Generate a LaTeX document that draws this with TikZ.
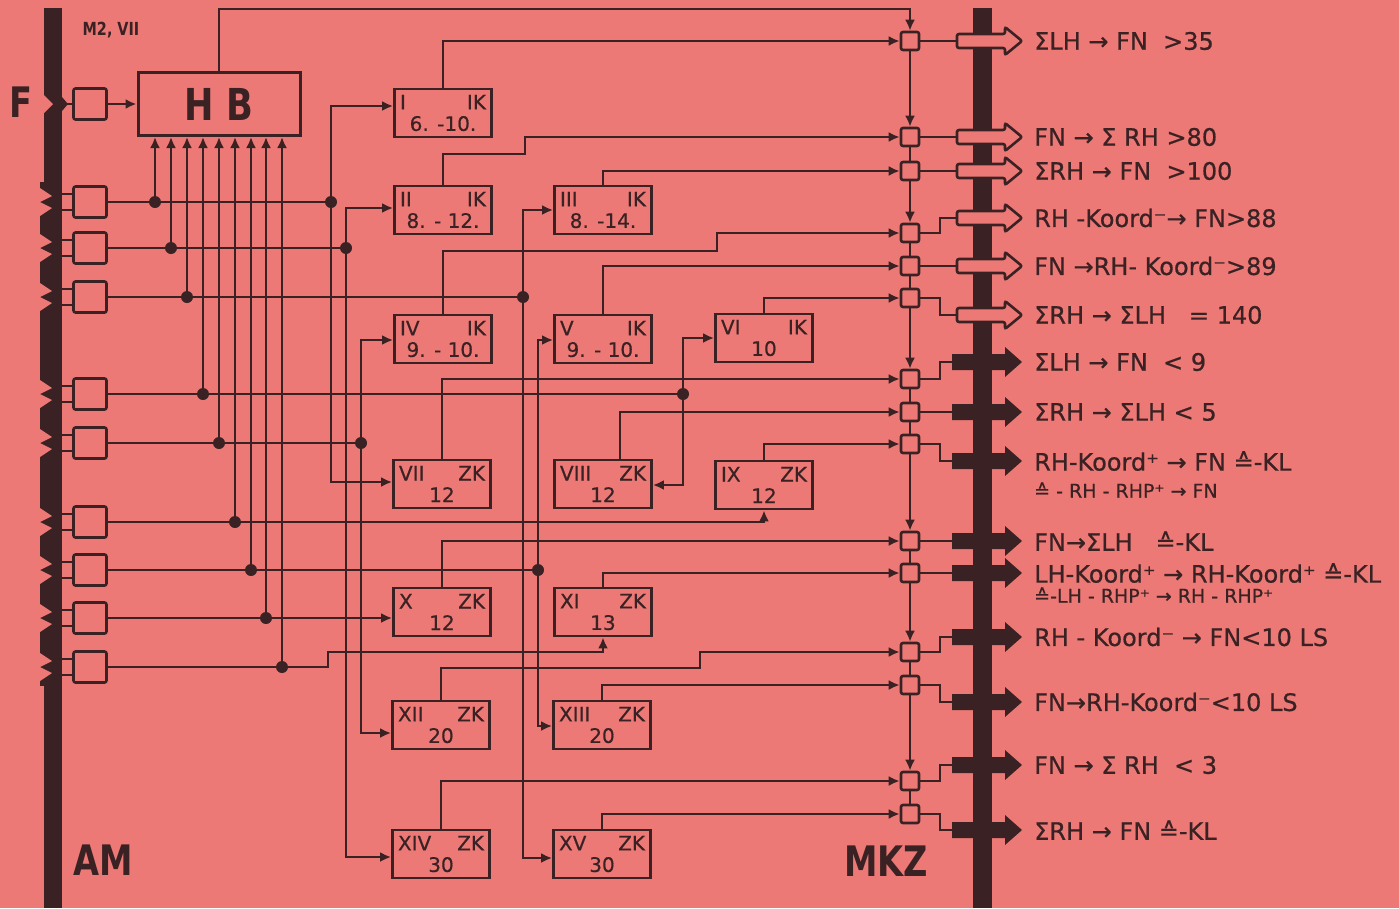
\documentclass[tikz,border=0pt]{standalone}
\usepackage{fontspec}
\setmainfont{DejaVu Sans}[FakeBold=0.6]
\newfontfamily\narrowfont[FakeStretch=0.8]{DejaVu Sans}
\usetikzlibrary{arrows.meta, positioning}
\definecolor{bg}{RGB}{236,121,117}
\definecolor{ink}{RGB}{58,34,36}
\newcommand{\bt}[3]{\makebox[86pt]{#1\hfill #2}\\#3}
\tikzset{
    wire/.style={draw=ink, line width=2.8pt},
    arr/.style={wire, -{Latex[length=11pt, width=10pt]}},
    blk/.style={draw=ink, line width=2.8pt, minimum width=97pt, minimum height=48pt, inner sep=0pt, align=center, text=ink, font=\fontsize{20}{21.5}\selectfont},
    hbbox/.style={draw=ink, line width=3pt, minimum width=162pt, minimum height=63pt, inner sep=0pt, text=ink, font=\narrowfont\fontsize{44}{44}\selectfont\bfseries},
    inbox/.style={draw=ink, line width=2.6pt, rounded corners=2pt, minimum width=33pt, minimum height=31pt, inner sep=0pt},
    cmb/.style={draw=ink, line width=2.6pt, rounded corners=2pt, minimum size=18pt, inner sep=0pt},
    dot/.style={circle, fill=ink, inner sep=0pt, minimum size=12pt},
    outlbl/.style={anchor=west, text=ink, inner sep=0pt, font=\fontsize{24}{26}\selectfont},
    sublbl/.style={outlbl, font=\fontsize{19}{21}\selectfont},
    bigtxt/.style={text=ink, inner sep=0pt, font=\narrowfont\fontsize{42}{42}\selectfont\bfseries},
    openarr/.pic={
        \draw[draw=ink, fill=bg, line width=2.6pt, rounded corners=2pt] (-33,-7) -- (15,-7) -- (15,-14) -- (32,0) -- (15,14) -- (15,7) -- (-33,7) -- cycle;
        \coordinate (-tail) at (-33,0);
    },
    fullarr/.pic={
        \fill[ink] (-38,-8) -- (15,-8) -- (15,-15) -- (32,0) -- (15,15) -- (15,8) -- (-38,8) -- cycle;
        \coordinate (-tail) at (-38,0);
    },
}

\begin{document}
\begin{tikzpicture}[x=1pt, y=-1pt]
    \fill[bg] (0,0) rectangle (1399,908);
    \useasboundingbox (0,0) rectangle (1399,908);

    % AM bus with teeth
    \fill[ink] (44,8) rectangle (62,908);
    \fill[ink] (40,182) rectangle (62,686);
    \foreach \r in {202,248,297,394,443,522,570,618,667}
        \fill[bg] (37,\r-14) -- (40,\r-14) -- (52,\r-6) -- (40,\r) -- (52,\r+6) -- (40,\r+14) -- (37,\r+14) -- cycle;
    \fill[bg] (43,94) -- (53,104) -- (43,114) -- cycle;
    \fill[ink] (62,97) -- (68,104) -- (62,111) -- cycle;

    % MKZ bus
    \fill[ink] (973,8) rectangle (992,908);

    \node[bigtxt] (tf) at (21,102) {F};
    \node[bigtxt] (tam) at (103,860) {AM};
    \node[bigtxt] (tmkz) at (886,861) {MKZ};
    \node[text=ink, inner sep=0pt, font=\narrowfont\fontsize{18}{18}\selectfont\bfseries] (tm) at (111,30) {M2, VII};

    % inputs
    \node[inbox] (inF) at (90,104) {};
    \draw[wire] (62,104) -- (inF);
    \foreach \r [count=\i] in {202,248,297,394,443,522,570,618,667} {
        \node[inbox] (in\i) at (90,\r) {};
        \draw[wire] (62,\r-8) -- (74,\r-8) (62,\r+8) -- (74,\r+8);
    }

    \node[hbbox] (hb) at (219,104) {H B};
    \draw[arr] (inF) -- (hb);

    % blocks
    \node[blk] (bI) at (443,113) {\bt{I}{IK}{6. -10.}};
    \node[blk] (bII) at (443,210) {\bt{II}{IK}{8. - 12.}};
    \node[blk] (bIII) at (603,210) {\bt{III}{IK}{8. -14.}};
    \node[blk] (bIV) at (443,339) {\bt{IV}{IK}{9. - 10.}};
    \node[blk] (bV) at (603,339) {\bt{V}{IK}{9. - 10.}};
    \node[blk] (bVI) at (764,338) {\bt{VI}{IK}{10}};
    \node[blk] (bVII) at (442,484) {\bt{VII}{ZK}{12}};
    \node[blk] (bVIII) at (603,484) {\bt{VIII}{ZK}{12}};
    \node[blk] (bIX) at (764,485) {\bt{IX}{ZK}{12}};
    \node[blk] (bX) at (442,612) {\bt{X}{ZK}{12}};
    \node[blk] (bXI) at (603,612) {\bt{XI}{ZK}{13}};
    \node[blk] (bXII) at (441,725) {\bt{XII}{ZK}{20}};
    \node[blk] (bXIII) at (602,725) {\bt{XIII}{ZK}{20}};
    \node[blk] (bXIV) at (441,854) {\bt{XIV}{ZK}{30}};
    \node[blk] (bXV) at (602,854) {\bt{XV}{ZK}{30}};

    % combiners
    \foreach \y [count=\i] in {41,137,171,233,266,298,379,412,444,541,573,652,685,781,814}
        \node[cmb] (c\i) at (910,\y) {};

    % output arrows
    \foreach \y [count=\i] in {41,137,171,218,266,315}
        \pic (o\i) at (990,\y) {openarr};
    \foreach \y [count=\i from 7] in {362,412,461,541,573,637,702,765,830}
        \pic (o\i) at (990,\y) {fullarr};

    % junctions
    \node[dot] (j1) at (331,202) {};
    \node[dot] (j2) at (346,248) {};
    \node[dot] (j3) at (523,297) {};
    \node[dot] (j4) at (683,394) {};
    \node[dot] (j5) at (361,443) {};
    \node[dot] (j7) at (538,570) {};

    % rows
    \draw[wire] (in1) -- (j1);
    \draw[wire] (in2) -- (j2);
    \draw[wire] (in3) -- (j3);
    \draw[wire] (in4) -- (j4);
    \draw[wire] (in5) -- (j5);
    \draw[arr] (in6) -| (bIX.south);
    \draw[wire] (in7) -- (j7);
    \draw[arr] (in8) -- (bX.west |- in8);
    \draw[arr] (in9) -- (328,667) |- (bXI.south |- 0,652) -- (bXI.south);

    \draw[arr] (j1) |- (bI.west |- 0,106);
    \draw[arr] (j1) |- (bVII.west |- 0,482);
    \draw[arr] (j2) |- (bII.west |- 0,208);
    \draw[arr] (j2) |- (bXIV.west |- 0,857);
    \draw[arr] (j3) |- (bIII.west |- 0,210);
    \draw[arr] (j3) |- (bXV.west |- 0,858);
    \draw[arr] (j4) |- (bVI.west |- 0,338);
    \draw[arr] (j4) |- (bVIII.east |- 0,485);
    \draw[arr] (j5) |- (bIV.west |- 0,340);
    \draw[arr] (j5) |- (bXII.west |- 0,733);
    \draw[arr] (j7) |- (bV.west |- 0,340);
    \draw[arr] (j7) |- (bXIII.west |- 0,726);

    % HB taps
    \foreach \x/\r [count=\i] in {155/202, 171/248, 187/297, 203/394, 219/443, 235/522, 251/570, 266/618, 282/667} {
        \node[dot] (d\i) at (\x,\r) {};
        \draw[arr] (d\i.center) -- (hb.south -| d\i);
    }

    % block outputs
    \draw[arr] (hb.north) |- (c1 |- 0,9) -- (c1);
    \draw[arr] (bI.north) |- (c1);
    \draw[arr] (bII.north) |- (525,154) |- (c2);
    \draw[arr] (bIII.north) |- (c3);
    \draw[arr] (bIV.north) |- (717,251) |- (c4);
    \draw[arr] (bV.north) |- (c5);
    \draw[arr] (bVI.north) |- (c6);
    \draw[arr] (bVII.north) |- (c7);
    \draw[arr] (bVIII.north -| 620,0) |- (c8);
    \draw[arr] (bIX.north) |- (c9);
    \draw[arr] (bX.north) |- (c10);
    \draw[arr] (bXI.north) |- (c11);
    \draw[arr] (bXII.north) |- (700,668) |- (c12);
    \draw[arr] (bXIII.north) |- (c13);
    \draw[arr] (bXIV.north) |- (c14);
    \draw[arr] (bXV.north) |- (c15);

    % combiner chain
    \draw[arr] (c1) -- (c2);
    \draw[wire] (c2) -- (c3);
    \draw[arr] (c3) -- (c4);
    \draw[wire] (c4) -- (c5) (c5) -- (c6);
    \draw[arr] (c6) -- (c7);
    \draw[wire] (c7) -- (c8) (c8) -- (c9);
    \draw[arr] (c9) -- (c10);
    \draw[wire] (c10) -- (c11);
    \draw[arr] (c11) -- (c12);
    \draw[wire] (c12) -- (c13);
    \draw[arr] (c13) -- (c14);
    \draw[wire] (c14) -- (c15);

    % to MKZ
    \foreach \i in {1,2,3,5,8,10,11}
        \draw[wire] (c\i) -- (o\i-tail);
    \foreach \i in {4,6,7,9,12,13,14,15}
        \draw[wire] (c\i) -- (c\i -| 940,0) |- (o\i-tail);

    % labels
    \node[outlbl] (l1) at (1034,41) {ΣLH → FN~~>35};
    \node[outlbl] (l2) at (1034,137) {FN → Σ RH~>80};
    \node[outlbl] (l3) at (1034,171) {ΣRH → FN~~>100};
    \node[outlbl] (l4) at (1034,218) {RH -Koord⁻→ FN>88};
    \node[outlbl] (l5) at (1034,266) {FN →RH- Koord⁻>89};
    \node[outlbl] (l6) at (1034,315) {ΣRH → ΣLH~~~= 140};
    \node[outlbl] (l7) at (1034,362) {ΣLH → FN~~< 9};
    \node[outlbl] (l8) at (1034,412) {ΣRH → ΣLH < 5};
    \node[outlbl] (l9) at (1034,461) {RH-Koord⁺ → FN ≙-KL};
    \node[sublbl] (l9b) at (1034,490) {≙ - RH - RHP⁺ → FN};
    \node[outlbl] (l10) at (1034,541) {FN→ΣLH~~~≙-KL};
    \node[outlbl] (l11) at (1034,573) {LH-Koord⁺ → RH-Koord⁺ ≙-KL};
    \node[sublbl] (l11b) at (1034,595) {≙-LH - RHP⁺ → RH - RHP⁺};
    \node[outlbl] (l12) at (1034,637) {RH - Koord⁻ → FN<10~LS};
    \node[outlbl] (l13) at (1034,702) {FN→RH-Koord⁻<10~LS};
    \node[outlbl] (l14) at (1034,765) {FN → Σ RH~~< 3};
    \node[outlbl] (l15) at (1034,830) {ΣRH → FN ≙-KL};
\end{tikzpicture}
\end{document}
